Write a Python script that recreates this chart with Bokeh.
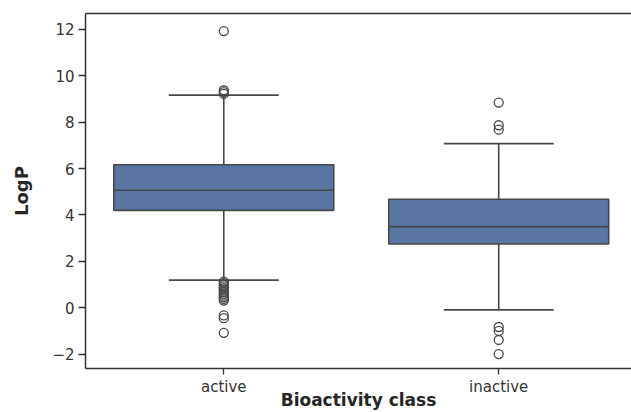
from bokeh.plotting import figure
from bokeh.models import (LinearAxis, FixedTicker, Range1d, ColumnDataSource)
from bokeh.embed import file_html
from bokeh.resources import INLINE

# ---- data ----
categories = ["active", "inactive"]
q1 = [4.20, 2.75]
median = [5.07, 3.50]
q3 = [6.17, 4.68]
whisker_low = [1.19, -0.09]
whisker_high = [9.17, 7.08]
outliers_active = [11.93, 9.38, 9.30, 9.22, 1.13, 1.06, 0.99, 0.92, 0.84, 0.76,
                   0.68, 0.60, 0.52, 0.45, 0.38, 0.31, -0.33, -0.45, -1.08]
outliers_inactive = [8.85, 7.87, 7.68, -0.83, -1.00, -1.39, -2.00]
y_ticks = [-2, 0, 2, 4, 6, 8, 10, 12]

BOX = "#5975a4"
LINE = "#474747"
AX = "#333333"
FONT = "DejaVu Sans"

xs = list(range(len(categories)))
p = figure(width=631, height=412, output_backend="svg", toolbar_location=None,
           x_range=Range1d(-0.503, 1.483), y_range=Range1d(-2.62, 12.69),
           x_axis_location=None, y_axis_location=None,
           min_border_left=85, min_border_top=13, min_border_right=0,
           min_border_bottom=44)
p.xgrid.visible = False
p.ygrid.visible = False
p.outline_line_color = None
p.background_fill_color = "white"

src = ColumnDataSource(dict(x=xs, q1=q1, q3=q3, med=median, lo=whisker_low,
                            hi=whisker_high,
                            xl=[x - 0.4 for x in xs], xr=[x + 0.4 for x in xs],
                            cl=[x - 0.2 for x in xs], cr=[x + 0.2 for x in xs]))

# whiskers
p.segment(x0="x", y0="q3", x1="x", y1="hi", source=src, line_color=LINE, line_width=1.6)
p.segment(x0="x", y0="lo", x1="x", y1="q1", source=src, line_color=LINE, line_width=1.6)
p.segment(x0="cl", y0="hi", x1="cr", y1="hi", source=src, line_color=LINE, line_width=1.6)
p.segment(x0="cl", y0="lo", x1="cr", y1="lo", source=src, line_color=LINE, line_width=1.6)
# boxes
p.vbar(x="x", bottom="q1", top="q3", width=0.8, source=src, fill_color=BOX,
       line_color=LINE, line_width=1.6)
p.segment(x0="xl", y0="med", x1="xr", y1="med", source=src, line_color=LINE, line_width=1.6)

# outliers
ox = [0] * len(outliers_active) + [1] * len(outliers_inactive)
oy = outliers_active + outliers_inactive
p.scatter(x=ox, y=oy, marker="circle", size=9, fill_color=None,
          line_color=LINE, line_width=1.3)

# axes
yax = LinearAxis(ticker=FixedTicker(ticks=y_ticks), axis_label="LogP")
yax.axis_line_color = AX
yax.axis_line_width = 1.5
yax.major_tick_line_color = AX
yax.major_tick_line_width = 1.3
yax.major_tick_out = 7
yax.major_tick_in = 0
yax.minor_tick_line_color = None
yax.major_label_text_font = FONT
yax.major_label_text_font_size = "15px"
yax.major_label_text_color = "#333333"
yax.major_label_standoff = 4
yax.axis_label_text_font = FONT
yax.axis_label_text_font_style = "bold"
yax.axis_label_text_font_size = "18px"
yax.axis_label_text_color = "#262626"
yax.axis_label_standoff = 17
yax.major_label_overrides = {t: (str(t) if t >= 0 else "\u2212" + str(-t)) for t in y_ticks}
p.add_layout(yax, "left")

xax = LinearAxis(ticker=FixedTicker(ticks=xs), axis_label="Bioactivity class")
xax.major_label_overrides = {i: c for i, c in enumerate(categories)}
xax.axis_line_color = AX
xax.axis_line_width = 1.5
xax.major_tick_line_color = AX
xax.major_tick_line_width = 1.3
xax.major_tick_out = 6
xax.major_tick_in = 0
xax.minor_tick_line_color = None
xax.major_label_text_font = FONT
xax.major_label_text_font_size = "15px"
xax.major_label_text_color = "#333333"
xax.major_label_standoff = 3
xax.axis_label_text_font = FONT
xax.axis_label_text_font_style = "bold"
xax.axis_label_text_font_size = "17px"
xax.axis_label_text_color = "#262626"
xax.axis_label_standoff = -9
p.add_layout(xax, "below")

top = LinearAxis(ticker=FixedTicker(ticks=[]))
top.axis_line_color = AX
top.axis_line_width = 1.5
top.major_tick_line_color = None
top.minor_tick_line_color = None
top.major_label_text_font_size = "0px"
p.add_layout(top, "above")

open("out.html", "w").write(file_html(p, INLINE))
